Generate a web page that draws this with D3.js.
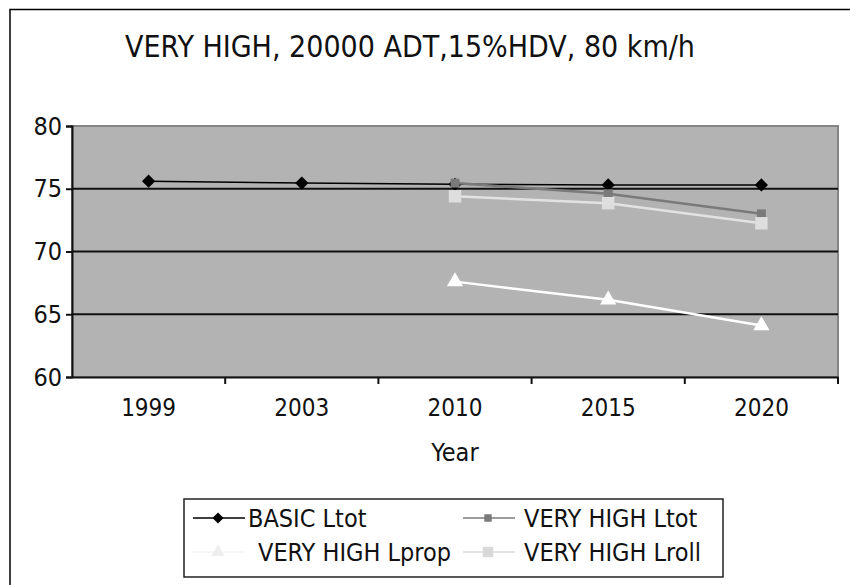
<!DOCTYPE html>
<html>
<head>
<meta charset="utf-8">
<script src="https://cdn.jsdelivr.net/npm/d3@7"></script>
<style>
  html, body { margin: 0; padding: 0; background: #fff; }
  svg { display: block; }
  text { font-family: "DejaVu Sans Condensed", "Liberation Sans", sans-serif; fill: #111; }
</style>
</head>
<body>
<svg id="chart" width="850" height="585"></svg>
<script>
// Noise level (dB) per scenario and year
const years = ["1999", "2003", "2010", "2015", "2020"];
const basicLtot = [75.6, 75.45, 75.35, 75.3, 75.3];
const vhLtot = [null, null, 75.45, 74.6, 73.0];
const vhLprop = [null, null, 67.6, 66.15, 64.1];
const vhLroll = [null, null, 74.4, 73.85, 72.25];
const yTicks = [60, 65, 70, 75, 80];
const seriesNames = ["BASIC Ltot", "VERY HIGH Ltot", "VERY HIGH Lprop", "VERY HIGH Lroll"];

const svg = d3.select("#chart");

// outer chart frame
svg.append("rect").attr("x", 10).attr("y", 9.5).attr("width", 900).attr("height", 640)
  .attr("fill", "#fff").attr("stroke", "#000").attr("stroke-width", 1.5);

svg.append("text").attr("x", 410).attr("y", 57).attr("text-anchor", "middle")
  .style("font-size", "30px").text("VERY HIGH, 20000 ADT,15%HDV, 80 km/h");

const plot = { left: 72, right: 838, top: 126, bottom: 377 };
const x = d3.scaleBand().domain(years).range([plot.left, plot.right]).padding(0);
const y = d3.scaleLinear().domain([60, 80]).range([plot.bottom, plot.top]);

// plot area
svg.append("rect").attr("x", plot.left).attr("y", plot.top)
  .attr("width", plot.right - plot.left).attr("height", plot.bottom - plot.top)
  .attr("fill", "#b3b3b3").attr("stroke", "#858585").attr("stroke-width", 2);

// gridlines
svg.append("g").selectAll("line").data(yTicks.filter(t => t > 60 && t < 80)).join("line")
  .attr("x1", plot.left).attr("x2", plot.right)
  .attr("y1", d => y(d)).attr("y2", d => y(d))
  .attr("stroke", "#111").attr("stroke-width", 2);

// y axis
const yAxis = svg.append("g").attr("transform", `translate(${plot.left},0)`)
  .call(d3.axisLeft(y).tickValues(yTicks).tickSize(6).tickPadding(4));
yAxis.select(".domain").attr("stroke", "#111").attr("stroke-width", 2);
yAxis.selectAll(".tick line").attr("stroke", "#111").attr("stroke-width", 2);
yAxis.selectAll("text").style("font-size", "25px").attr("fill", "#111");

// x axis: ticks sit at category boundaries
const xAxis = svg.append("g").attr("transform", `translate(0,${plot.bottom})`)
  .call(d3.axisBottom(x).tickSize(0).tickPadding(22));
xAxis.select(".domain").attr("stroke", "#111").attr("stroke-width", 2);
xAxis.selectAll("text").style("font-size", "24px").attr("fill", "#111");
svg.append("g").selectAll("line").data(years.slice(1).concat(["end"])).join("line")
  .attr("x1", d => d === "end" ? plot.right : x(d))
  .attr("x2", d => d === "end" ? plot.right : x(d))
  .attr("y1", plot.bottom).attr("y2", plot.bottom + 7)
  .attr("stroke", "#111").attr("stroke-width", 2);

svg.append("text").attr("x", (plot.left + plot.right) / 2).attr("y", 461)
  .attr("text-anchor", "middle").style("font-size", "25px").text("Year");

const cx = d => x(d) + x.bandwidth() / 2;

// diamond = square turned 45 degrees
const styles = [
  { values: basicLtot, stroke: "#000", width: 1.5, symbol: d3.symbolSquare, size: 88, rot: 45, fill: "#000" },
  { values: vhLtot, stroke: "#7a7a7a", width: 2.5, symbol: d3.symbolSquare, size: 80, rot: 0, fill: "#7a7a7a" },
  { values: vhLprop, stroke: "#ffffff", width: 2.5, symbol: d3.symbolTriangle, size: 115, rot: 0, fill: "#ffffff" },
  { values: vhLroll, stroke: "#e2e2e2", width: 2.5, symbol: d3.symbolSquare, size: 155, rot: 0, fill: "#dedede" }
];

const line = d3.line().defined(d => d.v != null).x(d => cx(d.year)).y(d => y(d.v));

styles.forEach(s => {
  const pts = years.map((yr, i) => ({ year: yr, v: s.values[i] }));
  svg.append("path").datum(pts).attr("d", line)
    .attr("fill", "none").attr("stroke", s.stroke).attr("stroke-width", s.width);
  svg.append("g").selectAll("path").data(pts.filter(p => p.v != null)).join("path")
    .attr("transform", p => `translate(${cx(p.year)},${y(p.v)}) rotate(${s.rot})`)
    .attr("d", d3.symbol().type(s.symbol).size(s.size))
    .attr("fill", s.fill);
});

// legend
const legend = svg.append("g");
legend.append("rect").attr("x", 184).attr("y", 499).attr("width", 539).attr("height", 78)
  .attr("fill", "#fff").attr("stroke", "#222").attr("stroke-width", 1.5);

const legendItems = [
  { name: seriesNames[0], lx: 193, rowY: 518, tx: 248, st: styles[0], stroke: "#000", fill: "#000" },
  { name: seriesNames[1], lx: 463, rowY: 518, tx: 524, st: styles[1], stroke: "#7a7a7a", fill: "#7a7a7a" },
  { name: seriesNames[2], lx: 193, rowY: 552, tx: 258, st: styles[2], stroke: "#f4f4f4", fill: "#eeeeee" },
  { name: seriesNames[3], lx: 463, rowY: 552, tx: 524, st: styles[3], stroke: "#d8d8d8", fill: "#d8d8d8" }
];
legendItems.forEach(it => {
  legend.append("line").attr("x1", it.lx).attr("x2", it.lx + 52)
    .attr("y1", it.rowY).attr("y2", it.rowY)
    .attr("stroke", it.stroke).attr("stroke-width", 1.5);
  legend.append("path").attr("transform", `translate(${it.lx + 25},${it.rowY}) rotate(${it.st.rot})`)
    .attr("d", d3.symbol().type(it.st.symbol).size(it.st.size * 0.7)).attr("fill", it.fill);
  legend.append("text").attr("x", it.tx).attr("y", it.rowY + 9)
    .style("font-size", "25px").text(it.name);
});
</script>
</body>
</html>
